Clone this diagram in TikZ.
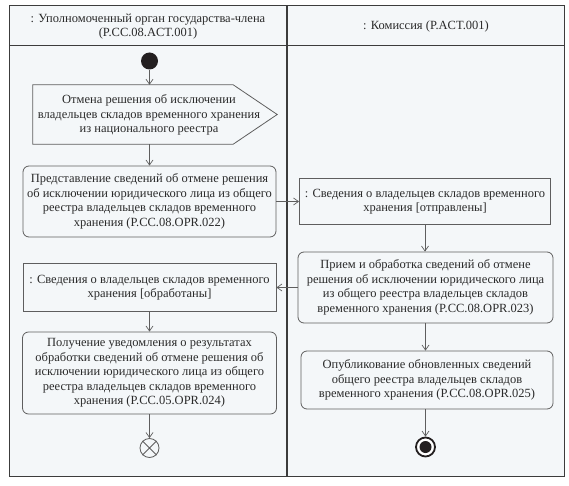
\documentclass[tikz,border=0pt]{standalone}
\usepackage{fontspec}
\setmainfont{Liberation Serif}
\usetikzlibrary{arrows.meta}
\definecolor{bgc}{HTML}{F4F7F9}
\definecolor{linec}{HTML}{5E5E5E}
\definecolor{framec}{HTML}{3C3C3C}
\definecolor{textc}{HTML}{2A2A2A}
\definecolor{dotc}{HTML}{231F20}
\tikzset{
  actbox/.style={draw=linec, line width=0.8pt, rounded corners=6pt, fill=bgc, align=center, inner sep=0pt, font=\fontsize{12.5}{14.6}\selectfont, text=textc},
  objbox/.style={draw=linec, line width=0.8pt, fill=bgc, align=center, inner sep=0pt, font=\fontsize{12.5}{14.6}\selectfont, text=textc},
  plain/.style={align=center, inner sep=0pt, font=\fontsize{12.5}{14.6}\selectfont, text=textc},
  arr/.style={draw=linec, line width=0.7pt, -{Straight Barb[length=5pt,width=7pt,line width=0.7pt]}},
}
\begin{document}
\begin{tikzpicture}[x=1pt,y=-1pt]
\useasboundingbox (0,0) rectangle (569,486);
% frame
\fill[white] (0,0) rectangle (569,486);
\draw[framec, line width=1pt, fill=bgc] (9,6) rectangle (564,476);
\draw[framec, line width=1pt] (9,46) -- (564,46);
\draw[framec, line width=1.2pt] (287,6) -- (287,476);
% headers
\node[plain] (h1) at (148,26.5) {: Уполномоченный орган государства-члена\\(P.CC.08.ACT.001)};
\node[plain] (h2) at (426,26) {: Комиссия (P.ACT.001)};
% start
\node[circle, fill=dotc, minimum size=17pt, inner sep=0pt] (start) at (149.5,61) {};
% box 1 (signal)
\node[minimum width=244pt, minimum height=59pt, inner sep=0pt] (b1) at (155,114.5) {};
\draw[draw=linec, line width=0.8pt, fill=bgc] (b1.north west) -- ([xshift=-44pt]b1.north east) -- (b1.east) -- ([xshift=-44pt]b1.south east) -- (b1.south west) -- cycle;
\node[plain] (b1t) at (149,115) {Отмена решения об исключении\\владельцев складов временного хранения\\из национального реестра};
% box 2
\node[actbox, minimum width=253pt, minimum height=71pt] (b2) at (149.5,201.5) {Представление сведений об отмене решения\\об исключении юридического лица из общего\\реестра владельцев складов временного\\хранения (P.CC.08.OPR.022)};
% object A
\node[objbox, minimum width=251pt, minimum height=46pt] (A) at (425,201.5) {: Сведения о владельцев складов временного\\хранения [отправлены]};
% box 3
\node[actbox, minimum width=255pt, minimum height=71pt] (b3) at (425.5,287.5) {Прием и обработка сведений об отмене\\решения об исключении юридического лица\\из общего реестра владельцев складов\\временного хранения (P.CC.08.OPR.023)};
% object B
\node[objbox, minimum width=253pt, minimum height=48pt] (B) at (149.5,287.5) {: Сведения о владельцев складов временного\\хранения [обработаны]};
% box 4
\node[actbox, minimum width=254pt, minimum height=82pt] (b4) at (149.5,373) {Получение уведомления о результатах\\обработки сведений об отмене решения об\\исключении юридического лица из общего\\реестра владельцев складов временного\\хранения (P.CC.05.OPR.024)};
% box 5
\node[actbox, minimum width=252pt, minimum height=58pt] (b5) at (427,380) {Опубликование обновленных сведений\\общего реестра владельцев складов\\временного хранения (P.CC.08.OPR.025)};
% flow final (X)
\node[circle, draw=linec, line width=0.8pt, minimum size=19pt, inner sep=0pt, fill=bgc] (fx) at (149.5,448) {};
\draw[linec, line width=0.8pt] (fx.north east) -- (fx.south west) (fx.north west) -- (fx.south east);
% activity final
\node[circle, draw=dotc, line width=1.8pt, fill=white, minimum size=19pt, inner sep=0pt] (fin) at (425.5,447) {};
\node[circle, fill=dotc, minimum size=12pt, inner sep=0pt] (fin2) at (fin) {};
% connectors
\draw[arr] (start) -- (start |- b1.north);
\draw[arr] (b2 |- b1.south) -- (b2.north);
\draw[arr] (b2.east) -- (b2.east -| A.west);
\draw[arr] (A.south) -- (A.south |- b3.north);
\draw[arr] (b3.west) -- (b3.west -| B.east);
\draw[arr] (B.south) -- (B.south |- b4.north);
\draw[arr] (b4.south) -- (fx.north);
\draw[arr] (fin |- b3.south) -- (fin |- b5.north);
\draw[arr] (fin |- b5.south) -- (fin.north);
\end{tikzpicture}
\end{document}
